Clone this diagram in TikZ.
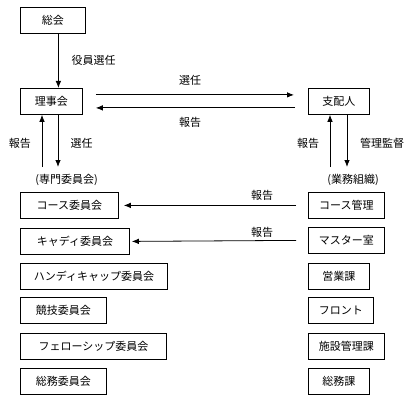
\documentclass[tikz,border=0pt]{standalone}
\usepackage{fontspec}
\setmainfont{Noto Sans CJK JP}
\usetikzlibrary{arrows.meta}

\begin{document}
\begin{tikzpicture}[x=1pt,y=-1pt,->,>={Latex[length=7pt,width=5.5pt]},line width=0.8pt,
  font=\fontsize{11}{13}\selectfont,
  box/.style={draw,anchor=north west,minimum height=26pt,inner sep=0pt}]

\useasboundingbox (0,0) rectangle (412,401);

% top level
\node (soukai) at (20,7) [box, minimum width=65pt] {総会};
\node (rijikai) at (20,88) [box, minimum width=62pt] {理事会};
\node (shihai) at (308,88) [box, minimum width=61pt] {支配人};

% committees
\node (course) at (20,192) [box, minimum width=98pt] {コース委員会};
\node (caddie) at (20,228) [box, minimum width=109pt] {キャディ委員会};
\node (handi) at (20,263) [box, minimum width=147pt] {ハンディキャップ委員会};
\node (kyougi) at (20,297) [box, minimum width=86pt] {競技委員会};
\node (fellow) at (20,333) [box, minimum width=146pt] {フェローシップ委員会};
\node (soumu) at (20,368) [box, minimum width=86pt] {総務委員会};

% business units
\node (coursekanri) at (308,192) [box, minimum width=76pt] {コース管理};
\node (master) at (308,227) [box, minimum width=76pt] {マスター室};
\node (eigyou) at (308,263) [box, minimum width=61pt] {営業課};
\node (front) at (308,297) [box, minimum width=65pt] {フロント};
\node (shisetsu) at (308,333) [box, minimum width=76pt] {施設管理課};
\node (soumuka) at (308,368) [box, minimum width=61pt] {総務課};

\node (senmon) at (66.5,180) {(専門委員会)};
\node (gyoumu) at (353,180) {(業務組織)};

\coordinate (rupfoot) at (42,167);
\coordinate (rdownfoot) at (58,167);
\coordinate (supfoot) at (330,167);
\coordinate (sdownfoot) at (347,167);

\path [->]
    ([xshift=5.5pt]soukai.south) edge ([xshift=7pt]rijikai.north)
    ([xshift=13pt,yshift=6.5pt]rijikai.east) edge ([xshift=-14pt,yshift=6.5pt]shihai.west)
    ([xshift=-13pt,yshift=-6.5pt]shihai.west) edge ([xshift=13pt,yshift=-6.5pt]rijikai.east)
    (rupfoot) edge (rupfoot |- rijikai.south)
    (rdownfoot |- rijikai.south) edge (rdownfoot)
    (supfoot) edge (supfoot |- shihai.south)
    (sdownfoot |- shihai.south) edge (sdownfoot)
    ([xshift=-12pt]coursekanri.west) edge ([xshift=5pt]course.east)
    ([xshift=-12pt]master.west) edge ([xshift=2pt]caddie.east)
;

\node at (93.5,60) {役員選任};
\node at (190,80) {選任};
\node at (190,122) {報告};
\node at (20,143) {報告};
\node at (81.5,143) {選任};
\node at (308,143) {報告};
\node at (382,143) {管理監督};
\node at (262,195) {報告};
\node at (262,232) {報告};

\end{tikzpicture}
\end{document}
